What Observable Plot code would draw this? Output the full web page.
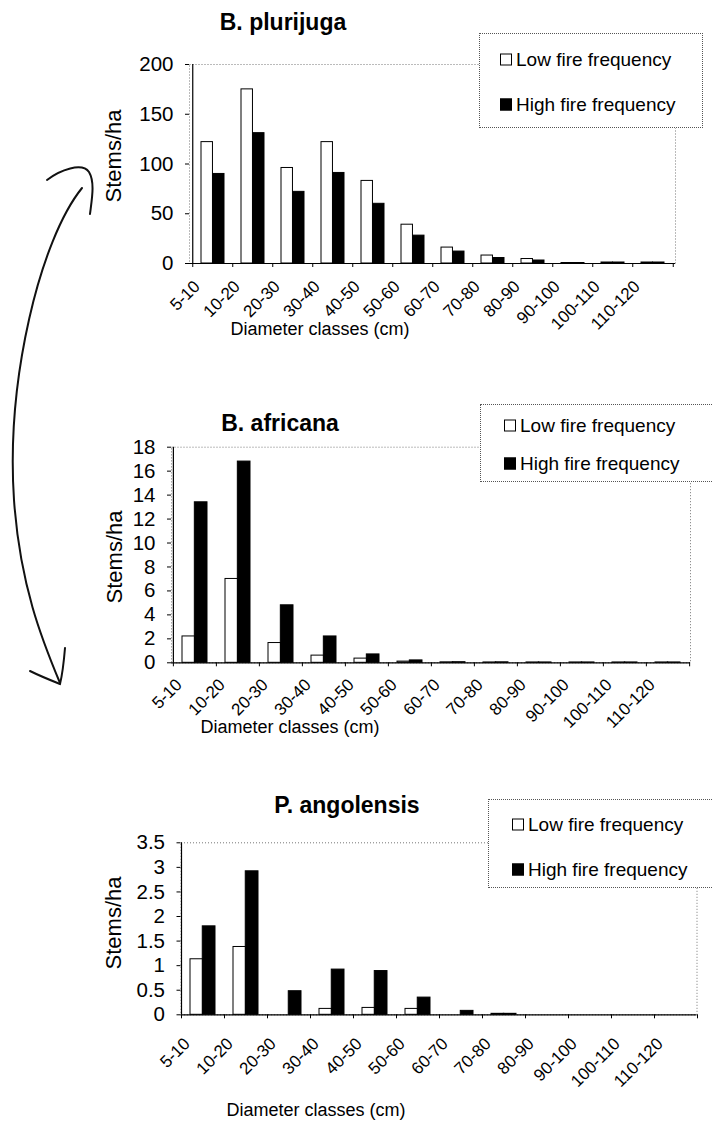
<!DOCTYPE html>
<html><head><meta charset="utf-8">
<script src="https://cdn.jsdelivr.net/npm/d3@7"></script>
<script src="https://cdn.jsdelivr.net/npm/@observablehq/plot@0.6"></script>
<style>
body{margin:0;background:#fff;overflow:hidden}
#root{position:relative;width:712px;height:1130px;overflow:hidden;font-family:"Liberation Sans",Arial,sans-serif;color:#000;background:#fff}
.abs{position:absolute;white-space:nowrap;line-height:1}
.title{font-weight:bold;font-size:23px;transform:translate(-50%,-50%)}
.axt{font-size:18px;transform:translate(-50%,-50%)}
.ylab{font-size:22px;transform:translate(-50%,-50%) rotate(-90deg)}
.legend{position:absolute;border:1px dotted #555;background:#fff;box-sizing:border-box}
.row{position:absolute;font-size:19px;display:flex;align-items:center;transform:translateY(-50%);white-space:nowrap;line-height:1}
.sw{width:12px;height:12px;border:1px solid #000;margin-right:4px;box-sizing:border-box;flex:none}
svg.panel{position:absolute;left:0}
</style></head><body><div id="root"></div>
<script>
// ---- data ----
const categories = ["5-10","10-20","20-30","30-40","40-50","50-60","60-70","70-80","80-90","90-100","100-110","110-120"];
const seriesNames = ["Low fire frequency","High fire frequency"];

const plurijugaLow  = [122, 175, 96, 122, 83, 39, 16, 8, 4.5, 0.5, 1, 1];
const plurijugaHigh = [90, 131, 72, 91, 60, 28, 12, 5.5, 3, 0.5, 1, 1];
const plurijugaTicks = [0, 50, 100, 150, 200];

const africanaLow  = [2.2, 7.0, 1.65, 0.6, 0.35, 0.1, 0.04, 0.03, 0.03, 0.03, 0.03, 0.03];
const africanaHigh = [13.4, 16.8, 4.8, 2.2, 0.7, 0.2, 0.05, 0.04, 0.03, 0.03, 0.03, 0.03];
const africanaTicks = [0, 2, 4, 6, 8, 10, 12, 14, 16, 18];

const angolensisLow  = [1.13, 1.38, 0, 0.12, 0.14, 0.12, 0, 0.02, 0, 0, 0, 0];
const angolensisHigh = [1.8, 2.92, 0.48, 0.92, 0.89, 0.35, 0.08, 0.02, 0, 0, 0, 0];
const angolensisTicks = [0, 0.5, 1, 1.5, 2, 2.5, 3, 3.5];

const titles = ["B. plurijuga", "B. africana", "P. angolensis"];
const yLabel = "Stems/ha";
const xLabel = "Diameter classes (cm)";

// ---- layout ----
const root = document.getElementById("root");
const FONT = '"Liberation Sans", Arial, sans-serif';

function addDiv(cls, text, x, y) {
  const d = document.createElement("div");
  d.className = "abs " + cls;
  d.textContent = text;
  d.style.left = x + "px";
  d.style.top = y + "px";
  root.appendChild(d);
  return d;
}

function drawPanel(p) {
  const H = p.height;
  const plotW = p.right - p.left;
  const step = plotW / categories.length;
  const padIn = 0.43, padOut = padIn / 2;
  const bw = step * (1 - padIn);
  const rows = categories.map((c, i) => ({cat: c, low: p.low[i], high: p.high[i]}));
  const tickLen = 4 * p.yMax / (p.y0 - p.yTop);
  const last = categories[categories.length - 1];
  const chart = Plot.plot({
    width: 712, height: H,
    marginLeft: p.left, marginRight: 712 - p.right,
    marginTop: p.yTop - p.top, marginBottom: H - (p.y0 - p.top),
    style: {fontFamily: FONT, fontSize: "20px", background: "transparent", overflow: "visible", color: "#000"},
    x: {type: "band", domain: categories, paddingInner: padIn, paddingOuter: padOut, axis: null},
    y: {domain: [0, p.yMax], axis: null},
    marks: [
      Plot.frame({stroke: "#777", strokeDasharray: "1,2"}),
      Plot.barY(rows, {x: "cat", y: "low", fill: "white", stroke: "black", strokeWidth: 1, insetRight: bw / 2}),
      Plot.barY(rows, {x: "cat", y: "high", fill: "black", stroke: "black", strokeWidth: 1, insetLeft: bw / 2}),
      Plot.ruleY([0], {stroke: "black", strokeWidth: 1.2}),
      Plot.ruleX([categories[0]], {x: d => d, dx: -step / 2, y1: 0, y2: p.yMax, stroke: "black", strokeWidth: 1.2}),
      Plot.ruleX(categories, {x: d => d, dx: -step / 2, y1: 0, y2: -tickLen, stroke: "black"}),
      Plot.ruleX([last], {x: d => d, dx: step / 2, y1: 0, y2: -tickLen, stroke: "black"}),
      Plot.axisY({ticks: p.yTicks, tickSize: 4, tickPadding: 12, tickFormat: d => String(d), fontSize: 20.5}),
      Plot.text(categories, {x: d => d, frameAnchor: "bottom", rotate: -45, textAnchor: "end", dx: p.labDx, dy: p.labDy, fontSize: 17})
    ]
  });
  chart.classList.add("panel");
  chart.style.top = p.top + "px";
  root.appendChild(chart);

  addDiv("title", p.title, p.titleX, p.titleY);
  addDiv("ylab", yLabel, p.ylabX, p.ylabY);
  addDiv("axt", xLabel, p.axtX, p.axtY);

  const lg = document.createElement("div");
  lg.className = "legend";
  lg.style.left = p.lg.left + "px";
  lg.style.top = p.lg.top + "px";
  lg.style.width = p.lg.width + "px";
  lg.style.height = p.lg.height + "px";
  seriesNames.forEach((name, i) => {
    const r = document.createElement("div");
    r.className = "row";
    r.style.left = p.lg.sx + "px";
    r.style.top = p.lg.rows[i] + "px";
    const sw = document.createElement("div");
    sw.className = "sw";
    sw.style.background = i === 0 ? "#fff" : "#000";
    r.appendChild(sw);
    const t = document.createElement("span");
    t.textContent = name;
    r.appendChild(t);
    lg.appendChild(r);
  });
  root.appendChild(lg);
}

drawPanel({top: 0, height: 360, left: 189, right: 675, yTop: 64, y0: 263, yMax: 200,
  low: plurijugaLow, high: plurijugaHigh, yTicks: plurijugaTicks, title: titles[0],
  titleX: 283, titleY: 22, ylabX: 114, ylabY: 156, axtX: 320, axtY: 329, labDx: -12, labDy: 24,
  lg: {left: 479, top: 33, width: 224, height: 95, sx: 20, rows: [25, 70]}});

drawPanel({top: 380, height: 360, left: 171, right: 690, yTop: 446.7, y0: 662.3, yMax: 18,
  low: africanaLow, high: africanaHigh, yTicks: africanaTicks, title: titles[1],
  titleX: 280, titleY: 423, ylabX: 115, ylabY: 557, axtX: 290, axtY: 727, labDx: -12, labDy: 23,
  lg: {left: 480, top: 404, width: 240, height: 78, sx: 23, rows: [20, 58]}});

drawPanel({top: 760, height: 370, left: 180.5, right: 696.5, yTop: 842.3, y0: 1014.3, yMax: 3.5,
  low: angolensisLow, high: angolensisHigh, yTicks: angolensisTicks, title: titles[2],
  titleX: 347, titleY: 805, ylabX: 114, ylabY: 923, axtX: 316, axtY: 1110, labDx: -12, labDy: 30,
  lg: {left: 488, top: 799, width: 240, height: 89, sx: 23, rows: [24, 69]}});

// hand-drawn annotation arrow (decoration)
const ns = "http://www.w3.org/2000/svg";
const ov = document.createElementNS(ns, "svg");
ov.setAttribute("width", 712); ov.setAttribute("height", 1130);
ov.style.position = "absolute"; ov.style.left = "0"; ov.style.top = "0"; ov.style.pointerEvents = "none";
["M47,180 C60,170 82,162 89,172 C95,182 92,198 90,214",
 "M82,188 C40,240 6,380 14,500 C20,585 42,640 60,683",
 "M30,671 C40,676 50,680 60,684 C63,672 64,660 65,648"].forEach(d => {
  const path = document.createElementNS(ns, "path");
  path.setAttribute("d", d);
  path.setAttribute("fill", "none");
  path.setAttribute("stroke", "#111");
  path.setAttribute("stroke-width", "2");
  path.setAttribute("stroke-linecap", "round");
  ov.appendChild(path);
});
root.appendChild(ov);
</script></body></html>
